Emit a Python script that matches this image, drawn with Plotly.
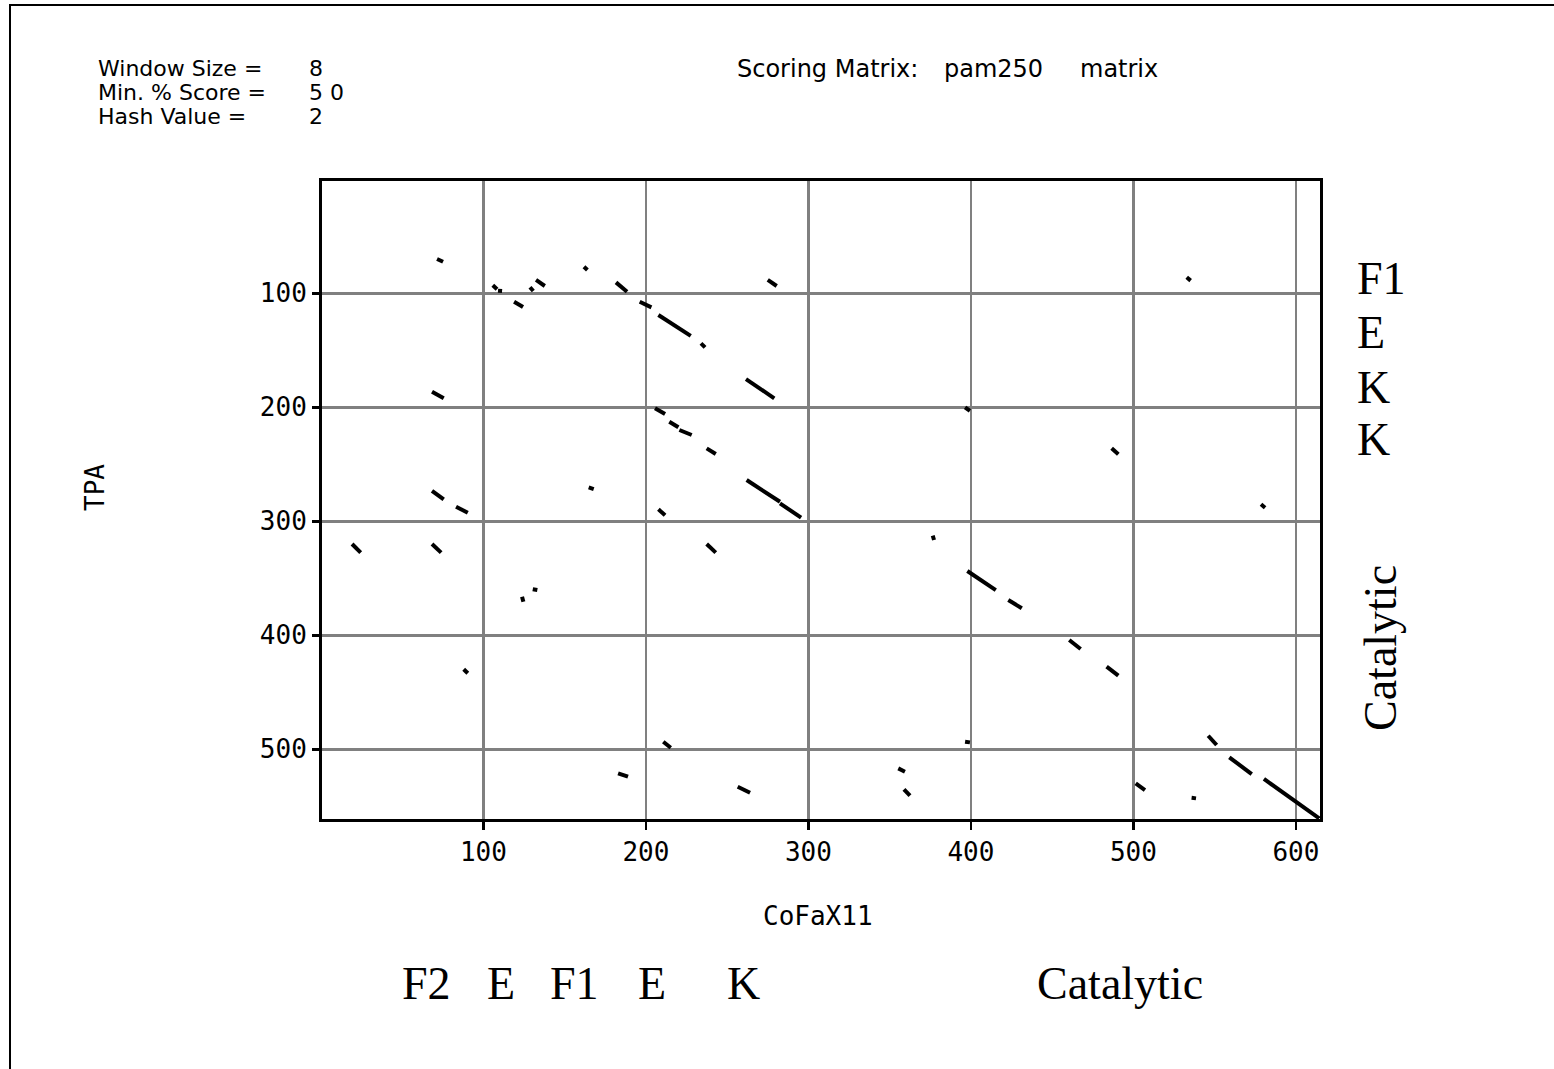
import plotly.graph_objects as go

# Dot-plot segments (data coords: CoFaX11 position, TPA position)
x_start = [71.5, 105.8, 109.0, 118.9, 128.7, 132.4, 161.9, 181.6, 196.2, 207.7,
           233.9, 261.6, 275.0, 68.4, 532.8, 164.8, 68.4, 83.2, 19.2, 68.4,
           130.4, 123.8, 205.6, 214.4, 220.6, 237.4, 262.0, 282.5, 207.7, 237.4,
           376.5, 396.4, 397.8, 423.0, 486.6, 578.5, 87.9, 182.9, 210.7, 256.5,
           355.3, 358.8, 396.4, 460.5, 483.5, 546.0, 559.0, 580.3, 501.4, 535.8]
y_start = [69.9, 93.0, 97.7, 107.4, 94.7, 88.3, 76.7, 90.4, 107.4, 119.0,
           143.9, 175.2, 88.3, 186.3, 86.0, 270.2, 273.2, 287.2, 319.9, 319.9,
           359.6, 366.1, 200.9, 212.6, 219.9, 236.0, 263.8, 284.2, 289.5, 319.9,
           312.6, 200.0, 343.6, 369.0, 236.0, 285.1, 429.8, 521.0, 493.3, 532.8,
           516.7, 535.1, 493.3, 404.1, 427.5, 488.1, 507.0, 526.0, 529.8, 542.5]
x_end = [75.2, 108.4, 111.5, 124.4, 130.7, 137.8, 164.0, 188.4, 203.4, 227.6,
         236.4, 279.0, 280.5, 75.6, 535.2, 167.9, 75.6, 90.4, 24.5, 74.0,
         133.2, 124.6, 211.8, 220.0, 228.2, 243.0, 282.5, 295.5, 211.8, 243.0,
         377.3, 399.4, 415.3, 431.3, 490.7, 581.0, 90.4, 189.0, 215.3, 264.1,
         359.4, 362.5, 399.4, 467.5, 490.7, 551.2, 572.8, 614.3, 507.1, 538.5]
y_end = [72.3, 96.5, 98.0, 112.0, 98.0, 93.6, 79.6, 98.6, 112.3, 137.4,
         147.4, 192.1, 93.6, 192.1, 88.9, 271.7, 280.7, 292.5, 327.5, 327.5,
         360.3, 370.5, 205.9, 217.5, 224.3, 241.0, 282.8, 296.8, 294.7, 327.5,
         316.4, 203.2, 360.3, 376.3, 241.2, 288.1, 433.3, 524.0, 498.6, 538.1,
         519.6, 540.7, 493.9, 412.0, 435.4, 496.2, 521.7, 560.5, 535.7, 543.0]

x_ticks = [100, 200, 300, 400, 500, 600]
y_ticks = [100, 200, 300, 400, 500]

bottom_labels = ["F2", "E", "F1", "E", "K", "Catalytic"]
bottom_label_px = [400, 485, 548, 636, 725, 1035]
right_labels = ["F1", "E", "K", "K"]
right_label_py = [278, 332, 387, 440]

xs, ys = [], []
for a, b, c, d in zip(x_start, y_start, x_end, y_end):
    xs += [a, c, None]
    ys += [b, d, None]

fig = go.Figure()
fig.add_trace(go.Scatter(x=xs, y=ys, mode="lines",
                         line=dict(color="black", width=4),
                         hoverinfo="skip", showlegend=False))

W, H = 1554, 1069
L, R, T, B = 322, 1320, 181, 819


def px(x, y):
    return (x - L) / (R - L), (B - y) / (B - T)


anns = []


def text(xp, yp, s, size, family, xanchor="left", angle=0):
    ax, ay = px(xp, yp)
    anns.append(dict(x=ax, y=ay, xref="paper", yref="paper", text=s,
                     showarrow=False, xanchor=xanchor, yanchor="middle",
                     textangle=angle,
                     font=dict(size=size, family=family, color="black")))


sans = "DejaVu Sans"
mono = "DejaVu Sans Mono"
serif = "Liberation Serif"

text(96, 69, "Window Size =", 22, sans)
text(96, 93, "Min. % Score =", 22, sans)
text(96, 117, "Hash Value =", 22, sans)
text(307, 69, "8", 22, sans)
text(307, 93, "5 0", 22, sans)
text(307, 117, "2", 22, sans)
text(735, 69, "Scoring Matrix:", 24, sans)
text(942, 69, "pam250", 24, sans)
text(1078, 69, "matrix", 24, sans)

text(818, 916, "CoFaX11", 26, mono, xanchor="center")
text(95, 488, "TPA", 26, mono, xanchor="center", angle=-90)

for s, xp in zip(bottom_labels, bottom_label_px):
    text(xp, 983, s, 46, serif)
for s, yp in zip(right_labels, right_label_py):
    text(1355, yp, s, 46, serif)
text(1380, 648, "Catalytic", 46, serif, xanchor="center", angle=-90)

bx0, by0 = px(10, 5)
bx1, by1 = px(1700, 1200)

fig.update_layout(
    width=W, height=H, autosize=False,
    margin=dict(l=L, r=W - R, t=T, b=H - B, pad=0),
    paper_bgcolor="white", plot_bgcolor="white",
    annotations=anns,
    shapes=[dict(type="rect", xref="paper", yref="paper",
                 x0=bx0, x1=bx1, y0=by1, y1=by0,
                 line=dict(color="black", width=2), fillcolor="rgba(0,0,0,0)",
                 layer="below")],
    xaxis=dict(range=[0.7, 614.8], tickvals=x_ticks, ticktext=[str(v) for v in x_ticks],
               showgrid=True, gridcolor="#808080", gridwidth=2.5,
               showline=True, linecolor="black", linewidth=3, mirror=True,
               ticks="outside", ticklen=8, tickwidth=2.5, tickcolor="black",
               tickfont=dict(family=mono, size=26, color="black"),
               zeroline=False, fixedrange=True),
    yaxis=dict(range=[561.1, 1.5], tickvals=y_ticks, ticktext=[str(v) for v in y_ticks],
               showgrid=True, gridcolor="#808080", gridwidth=2.5,
               showline=True, linecolor="black", linewidth=3, mirror=True,
               ticks="outside", ticklen=7, tickwidth=2.5, tickcolor="black",
               tickfont=dict(family=mono, size=26, color="black"),
               zeroline=False, fixedrange=True),
)

fig.write_html(
    "out.html",
    config={"displayModeBar": False, "staticPlot": True},
    post_script="document.body.style.margin='0';document.body.style.overflow='hidden';",
)
